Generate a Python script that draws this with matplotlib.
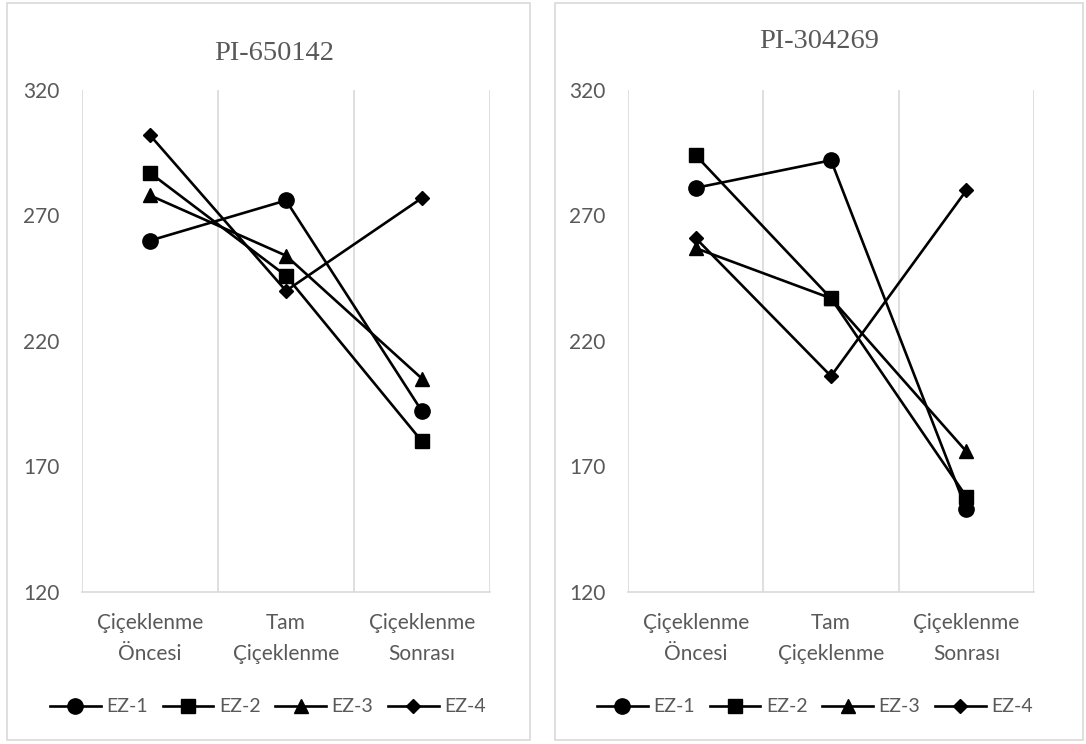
import matplotlib
matplotlib.use('Agg')
import matplotlib.pyplot as plt
from matplotlib.patches import Rectangle
from matplotlib.lines import Line2D

# Data
categories = ['Çiçeklenme\nÖncesi', 'Tam\nÇiçeklenme', 'Çiçeklenme\nSonrası']
series_names = ['EZ-1', 'EZ-2', 'EZ-3', 'EZ-4']
markers = ['o', 's', '^', 'D']
marker_sizes = [11, 10, 10.5, 7.5]

pi_650142 = {
    'EZ-1': [260, 276, 192],
    'EZ-2': [287, 246, 180],
    'EZ-3': [278, 254, 205],
    'EZ-4': [302, 240, 277],
}
pi_304269 = {
    'EZ-1': [281, 292, 153],
    'EZ-2': [294, 237, 158],
    'EZ-3': [257, 237, 176],
    'EZ-4': [261, 206, 280],
}
yticks = [120, 170, 220, 270, 320]

W, H = 1086, 744
fig = plt.figure(figsize=(W / 100, H / 100), dpi=100)
text_col = '#595959'
grid_col = '#d9d9d9'
sans = ['Lato', 'DejaVu Sans']
serif = ['Liberation Serif', 'DejaVu Serif']


def px(x0, y0, x1, y1):
    # pixel box -> figure fraction [left, bottom, width, height]
    return [x0 / W, 1 - y1 / H, (x1 - x0) / W, (y1 - y0) / H]


panels = [
    dict(title='PI-650142', data=pi_650142, box=(7, 3, 530, 740),
         axes=(82, 90, 490, 592), title_y=53, legend_x=268),
    dict(title='PI-304269', data=pi_304269, box=(555, 3, 1083, 740),
         axes=(628, 90, 1034, 592), title_y=42, legend_x=815),
]

for p in panels:
    bx = px(*p['box'])
    fig.patches.append(Rectangle((bx[0], bx[1]), bx[2], bx[3], transform=fig.transFigure,
                                 fill=False, edgecolor=grid_col, linewidth=1.2))
    ax = fig.add_axes(px(*p['axes']))
    xs = range(len(categories))
    for name, m, ms in zip(series_names, markers, marker_sizes):
        ax.plot(xs, p['data'][name], color='black', linewidth=1.9, marker=m,
                markersize=ms, label=name, zorder=3, clip_on=False)
    ax.set_xlim(-0.5, 2.5)
    ax.set_ylim(120, 320)
    ax.set_yticks(yticks)
    ax.set_yticklabels([str(v) for v in yticks], family=sans, fontsize=15, color=text_col)
    ax.set_xticks(list(xs))
    ax.set_xticklabels(categories, family=sans, fontsize=15, color=text_col, linespacing=1.72)
    ax.set_xticks([-0.5, 0.5, 1.5, 2.5], minor=True)
    ax.grid(axis='x', which='minor', color=grid_col, linewidth=1.2)
    ax.grid(axis='x', which='major', visible=False)
    ax.tick_params(axis='y', which='both', length=0, pad=16)
    ax.tick_params(axis='x', which='both', length=0, pad=15)
    for s in ['top', 'right', 'left']:
        ax.spines[s].set_visible(False)
    ax.spines['bottom'].set_color(grid_col)
    ax.spines['bottom'].set_linewidth(1.2)

    fig.text((p['axes'][0] + p['axes'][2]) / 2 / W - 0.011, 1 - p['title_y'] / H, p['title'],
             family=serif, fontsize=20.5, color=text_col, ha='center', va='center')

    handles = [Line2D([], [], color='black', linewidth=1.9, marker=m, markersize=ms)
               for m, ms in zip(markers, marker_sizes)]
    leg = fig.legend(handles, series_names, loc='center', ncol=4, frameon=False,
                     bbox_to_anchor=(p['legend_x'] / W, 1 - 707 / H),
                     prop={'family': sans, 'size': 14}, handlelength=2.6,
                     handletextpad=0.3, columnspacing=0.75)
    for t in leg.get_texts():
        t.set_color(text_col)

fig.savefig('out.png', dpi=100)
